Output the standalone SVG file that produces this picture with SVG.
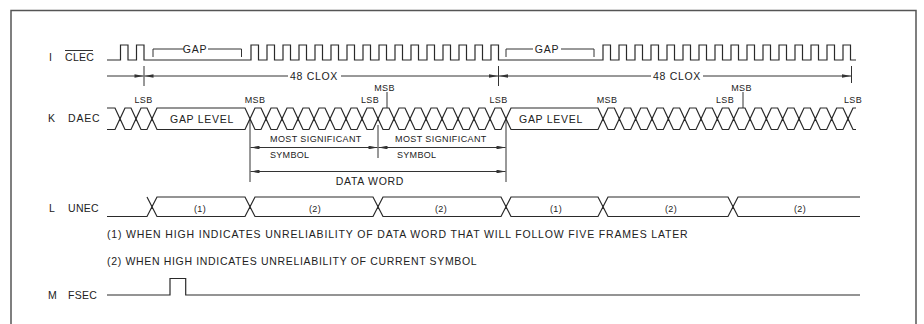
<svg xmlns="http://www.w3.org/2000/svg" xmlns:xlink="http://www.w3.org/1999/xlink" width="924" height="324" viewBox="0 0 924 324">
<style>
.t{font-family:"Liberation Sans",Arial,sans-serif;fill:#222}
.s9{font-size:9px;letter-spacing:0.3px}
.s10{font-size:10.5px;letter-spacing:0.3px}
.ls{letter-spacing:0.7px}
.w{fill:none;stroke:#2a2a2a;stroke-width:1.2;stroke-linejoin:miter}
.c{fill:none;stroke:#333;stroke-width:1}
.fr{fill:none;stroke:#555;stroke-width:1.5}
</style>
<defs>
<marker id="ah" viewBox="0 0 10 4" refX="10" refY="2" markerWidth="10" markerHeight="3.6" markerUnits="userSpaceOnUse" orient="auto-start-reverse">
<path d="M0,0 L10,2 L0,4 z" fill="#333"/>
</marker>
<path id="daecU" d="M107,108 H115 L120,118.75 L125,108 H131 L136,118.75 L141,108 H147 L152,118.75 L157,108 H245 L250,118.75 L255,108 H261 L266,118.75 L271,108 H277 L282,118.75 L287,108 H293 L298,118.75 L303,108 H309 L314,118.75 L319,108 H325 L330,118.75 L335,108 H341 L346,118.75 L351,108 H357 L362,118.75 L367,108 H373 L378,118.75 L383,108 H389 L394,118.75 L399,108 H405 L410,118.75 L415,108 H421 L426,118.75 L431,108 H437 L442,118.75 L447,108 H453 L458,118.75 L463,108 H469 L474,118.75 L479,108 H485 L490,118.75 L495,108 H501 L506,118.75 L511,108 H598 L603,118.75 L608,108 H614.33 L619.33,118.75 L624.33,108 H630.67 L635.67,118.75 L640.67,108 H647 L652,118.75 L657,108 H663.33 L668.33,118.75 L673.33,108 H679.67 L684.67,118.75 L689.67,108 H696 L701,118.75 L706,108 H712.33 L717.33,118.75 L722.33,108 H728.67 L733.67,118.75 L738.67,108 H745 L750,118.75 L755,108 H761.33 L766.33,118.75 L771.33,108 H777.67 L782.67,118.75 L787.67,108 H794 L799,118.75 L804,108 H810.33 L815.33,118.75 L820.33,108 H826.67 L831.67,118.75 L836.67,108 H843 L848,118.75 L853,108 H856"/>
</defs>

<rect width="924" height="324" fill="#fff"/>
<path class="fr" d="M11,326 V10.5 H916 V326"/>

<g id="sig-I">
<text class="t s10" x="49" y="61">I</text>
<text class="t s10" x="65" y="61">CLEC</text>
<line class="c" x1="65" y1="50.5" x2="93" y2="50.5"/>
<path class="w" d="M107,60 H120.5 V45 H128 V60 H136.5 V45 H144 V60 H251 V45 H258.5 V60 H267 V45 H274.5 V60 H283 V45 H290.5 V60 H299 V45 H306.5 V60 H315 V45 H322.5 V60 H331 V45 H338.5 V60 H347 V45 H354.5 V60 H363 V45 H370.5 V60 H379 V45 H386.5 V60 H395 V45 H402.5 V60 H411 V45 H418.5 V60 H427 V45 H434.5 V60 H443 V45 H450.5 V60 H459 V45 H466.5 V60 H475 V45 H482.5 V60 H491 V45 H498.5 V60 H603 V45 H610.5 V60 H619 V45 H626.5 V60 H635 V45 H642.5 V60 H651 V45 H658.5 V60 H667 V45 H674.5 V60 H683 V45 H690.5 V60 H699 V45 H706.5 V60 H715 V45 H722.5 V60 H731 V45 H738.5 V60 H747 V45 H754.5 V60 H763 V45 H770.5 V60 H779 V45 H786.5 V60 H795 V45 H802.5 V60 H811 V45 H818.5 V60 H827 V45 H834.5 V60 H843 V45 H850.5 V60 H856"/>
<text class="t s10 ls" x="195" y="53" text-anchor="middle">GAP</text>
<text class="t s10 ls" x="547" y="53" text-anchor="middle">GAP</text>
<text class="t s10 ls" x="314" y="79.5" text-anchor="middle">48 CLOX</text>
<text class="t s10 ls" x="677" y="79.5" text-anchor="middle">48 CLOX</text>
</g>

<g id="sig-K">
<text class="t s10" x="48" y="122">K</text>
<text class="t s10" x="68" y="122" style="letter-spacing:0.8px">DAEC</text>
<use xlink:href="#daecU" href="#daecU" class="w"/>
<use xlink:href="#daecU" href="#daecU" class="w" transform="matrix(1,0,0,-1,0,237.5)"/>
<text class="t s10 ls" x="202" y="122.5" text-anchor="middle">GAP LEVEL</text>
<text class="t s10 ls" x="551" y="122.5" text-anchor="middle">GAP LEVEL</text>
<text class="t s9" x="143.5" y="103" text-anchor="middle">LSB</text>
<text class="t s9" x="255" y="103" text-anchor="middle">MSB</text>
<text class="t s9" x="370" y="103" text-anchor="middle">LSB</text>
<text class="t s9" x="384.5" y="91" text-anchor="middle">MSB</text>
<text class="t s9" x="498.5" y="103" text-anchor="middle">LSB</text>
<text class="t s9" x="607" y="103" text-anchor="middle">MSB</text>
<text class="t s9" x="725" y="103" text-anchor="middle">LSB</text>
<text class="t s9" x="741.5" y="91" text-anchor="middle">MSB</text>
<text class="t s9" x="853" y="103" text-anchor="middle">LSB</text>
<text class="t s9" x="270" y="142" style="letter-spacing:0.4px">MOST SIGNIFICANT</text>
<text class="t s9" x="270" y="157.5">SYMBOL</text>
<text class="t s9" x="395" y="142" style="letter-spacing:0.4px">MOST SIGNIFICANT</text>
<text class="t s9" x="397" y="157.5">SYMBOL</text>
<text class="t s10 ls" x="370" y="184.5" text-anchor="middle">DATA WORD</text>
</g>

<g id="connectors">
<!-- GAP brackets -->
<path class="c" d="M153,57 V49 H184 M208,49 H241.5 V57"/>
<path class="c" d="M506,57 V49 H533 M561,49 H594 V57"/>
<!-- 48 CLOX dimension -->
<line class="c" x1="107" y1="76" x2="143.5" y2="76" marker-end="url(#ah)"/>
<line class="c" x1="144" y1="66" x2="144" y2="86"/>
<line class="c" x1="144.5" y1="76" x2="288" y2="76" marker-start="url(#ah)"/>
<line class="c" x1="341" y1="76" x2="498" y2="76" marker-end="url(#ah)"/>
<line class="c" x1="498.5" y1="66" x2="498.5" y2="86"/>
<line class="c" x1="499" y1="76" x2="651" y2="76" marker-start="url(#ah)"/>
<line class="c" x1="703" y1="76" x2="851" y2="76" marker-end="url(#ah)"/>
<line class="c" x1="851.5" y1="66" x2="851.5" y2="83"/>
<!-- MSB ticks -->
<line class="c" x1="387" y1="92" x2="387" y2="108"/>
<line class="c" x1="743" y1="92" x2="743" y2="108"/>
<!-- symbol / data word extents -->
<line class="c" x1="250" y1="119" x2="250" y2="182"/>
<line class="c" x1="378" y1="125" x2="378" y2="158"/>
<line class="c" x1="506" y1="119" x2="506" y2="182"/>
<line class="c" x1="250.5" y1="147.5" x2="377.5" y2="147.5" marker-start="url(#ah)" marker-end="url(#ah)"/>
<line class="c" x1="378.5" y1="147.5" x2="505.5" y2="147.5" marker-start="url(#ah)" marker-end="url(#ah)"/>
<line class="c" x1="250.5" y1="171.5" x2="505.5" y2="171.5" marker-start="url(#ah)" marker-end="url(#ah)"/>
</g>

<g id="sig-L">
<text class="t s10" x="49" y="212">L</text>
<text class="t s10" x="68" y="212">UNEC</text>
<path class="w" d="M147,197 L152,206.75 L157,197 H245 L250,206.75 L255,197 H373 L378,206.75 L383,197 H501 L506,206.75 L511,197 H598 L603,206.75 L608,197 H728 L733,206.75 L738,197 H860"/>
<path class="w" d="M107,216.5 H147 L152,206.75 L157,216.5 H245 L250,206.75 L255,216.5 H373 L378,206.75 L383,216.5 H501 L506,206.75 L511,216.5 H598 L603,206.75 L608,216.5 H728 L733,206.75 L738,216.5 H860"/>
<text class="t s9" x="200" y="211.5" text-anchor="middle">(1)</text>
<text class="t s9" x="315" y="211.5" text-anchor="middle">(2)</text>
<text class="t s9" x="441" y="211.5" text-anchor="middle">(2)</text>
<text class="t s9" x="556" y="211.5" text-anchor="middle">(1)</text>
<text class="t s9" x="671" y="211.5" text-anchor="middle">(2)</text>
<text class="t s9" x="800" y="211.5" text-anchor="middle">(2)</text>
</g>

<g id="notes">
<text class="t s10" x="107" y="237.5" textLength="581" lengthAdjust="spacing">(1) WHEN HIGH INDICATES UNRELIABILITY OF DATA WORD THAT WILL FOLLOW FIVE FRAMES LATER</text>
<text class="t s10" x="107" y="265" textLength="370" lengthAdjust="spacing">(2) WHEN HIGH INDICATES UNRELIABILITY OF CURRENT SYMBOL</text>
</g>

<g id="sig-M">
<text class="t s10" x="48" y="299">M</text>
<text class="t s10" x="68" y="299">FSEC</text>
<path class="w" d="M107,295 H170 V278.5 H185.7 V295 H860"/>
</g>
</svg>
